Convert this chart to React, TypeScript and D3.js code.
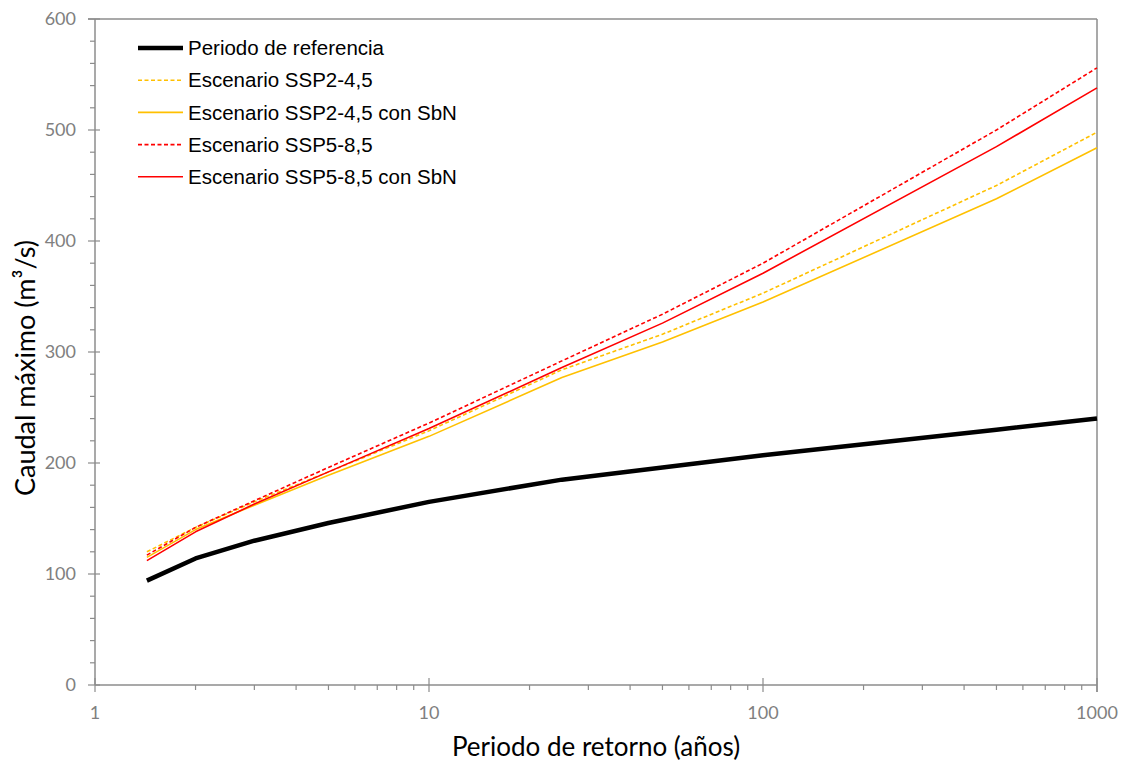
import React from "react";
import * as d3 from "d3";

// Return periods (years)
const periods = [1.43, 2, 3, 5, 10, 25, 50, 100, 500, 1000];

// Peak discharge (m³/s) per scenario
const referencia = [94, 114, 130, 146, 165, 185, 196, 207, 230, 240];
const ssp245 = [120, 142, 165, 192, 229, 284, 316, 353, 450, 498];
const ssp245SbN = [115, 140, 162, 189, 224, 277, 309, 345, 438, 484];
const ssp585 = [117, 142, 166, 196, 236, 292, 334, 380, 500, 556];
const ssp585SbN = [112, 138, 163, 192, 231, 286, 326, 371, 485, 538];

const seriesNames = [
  "Periodo de referencia",
  "Escenario SSP2-4,5",
  "Escenario SSP2-4,5 con SbN",
  "Escenario SSP5-8,5",
  "Escenario SSP5-8,5 con SbN",
];

const xTicks = [1, 10, 100, 1000];
const yTicks = [0, 100, 200, 300, 400, 500, 600];

const W = 1126;
const H = 763;
const left = 95;
const right = 1097;
const top = 19;
const bottom = 685;

export default function App() {
  const x = d3.scaleLog().domain([1, 1000]).range([left, right]);
  const y = d3.scaleLinear().domain([0, 600]).range([bottom, top]);

  const series = [
    { name: seriesNames[0], values: referencia, color: "#000000", width: 4.5, dash: "" },
    { name: seriesNames[1], values: ssp245, color: "#FFC000", width: 1.6, dash: "4 2.5" },
    { name: seriesNames[2], values: ssp245SbN, color: "#FFC000", width: 1.6, dash: "" },
    { name: seriesNames[3], values: ssp585, color: "#FF0000", width: 1.6, dash: "4 2.5" },
    { name: seriesNames[4], values: ssp585SbN, color: "#FF0000", width: 1.6, dash: "" },
  ];

  const line = d3
    .line<[number, number]>()
    .x((d) => x(d[0]))
    .y((d) => y(d[1]));

  const axisColor = "#8c8c8c";
  const tickFont = "Lato, 'Open Sans', sans-serif";

  // minor ticks on the log axis: 2..9 of each decade
  const minorX: number[] = [];
  for (let dec = 1; dec < 1000; dec *= 10) {
    for (let k = 2; k <= 9; k++) minorX.push(dec * k);
  }
  const minorY = d3.range(0, 601, 20).filter((v) => v % 100 !== 0);

  return (
    <svg width={W} height={H} style={{ position: "absolute", left: 0, top: 0, background: "#fff" }}>
      {/* frame */}
      <line x1={left - 7} x2={right} y1={top} y2={top} stroke={axisColor} strokeWidth={1.5} />
      <line x1={right} x2={right} y1={top} y2={bottom + 7} stroke={axisColor} strokeWidth={1.5} />

      {/* y axis */}
      <line x1={left} x2={left} y1={top} y2={bottom} stroke={axisColor} strokeWidth={1.5} />
      {minorY.map((v) => (
        <line key={"my" + v} x1={left - 5} x2={left} y1={y(v)} y2={y(v)} stroke={axisColor} strokeWidth={1.2} />
      ))}
      {yTicks.map((v) => (
        <g key={"y" + v}>
          <line x1={left - 7} x2={left + 5} y1={y(v)} y2={y(v)} stroke={axisColor} strokeWidth={1.2} />
          <text
            x={left - 19}
            y={y(v)}
            dy="0.35em"
            textAnchor="end"
            fontFamily={tickFont}
            fontSize={18}
            fill="#808080"
          >
            {v}
          </text>
        </g>
      ))}

      {/* x axis */}
      <line x1={left} x2={right} y1={bottom} y2={bottom} stroke={axisColor} strokeWidth={1.5} />
      {minorX.map((v) => (
        <line key={"mx" + v} x1={x(v)} x2={x(v)} y1={bottom} y2={bottom + 5} stroke={axisColor} strokeWidth={1.2} />
      ))}
      {xTicks.map((v) => (
        <g key={"x" + v}>
          <line x1={x(v)} x2={x(v)} y1={bottom - 7} y2={bottom + 7} stroke={axisColor} strokeWidth={1.2} />
          <text
            x={x(v)}
            y={bottom + 34}
            textAnchor="middle"
            fontFamily={tickFont}
            fontSize={18}
            fill="#808080"
          >
            {v}
          </text>
        </g>
      ))}

      {/* axis titles */}
      <text
        x={(left + right) / 2}
        y={756}
        textAnchor="middle"
        fontFamily={tickFont}
        fontSize={26}
        fill="#000"
      >
        Periodo de retorno (años)
      </text>
      <text
        transform={`translate(35, 368) rotate(-90)`}
        textAnchor="middle"
        fontFamily={tickFont}
        fontSize={27}
        fill="#000"
      >
        Caudal máximo (m³/s)
      </text>

      {/* series */}
      {series.map((s) => (
        <path
          key={s.name}
          d={line(periods.map((p, i) => [p, s.values[i]] as [number, number])) || ""}
          fill="none"
          stroke={s.color}
          strokeWidth={s.width}
          strokeDasharray={s.dash}
          strokeLinejoin="round"
        />
      ))}

      {/* legend */}
      {series.map((s, i) => {
        const ly = 48 + i * 32.2;
        return (
          <g key={"lg" + i}>
            <line
              x1={138}
              x2={183}
              y1={ly}
              y2={ly}
              stroke={s.color}
              strokeWidth={s.width}
              strokeDasharray={s.dash}
            />
            <text
              x={188}
              y={ly}
              dy="0.35em"
              fontFamily="'Liberation Sans', Arial, sans-serif"
              fontSize={20.5}
              fill="#000"
            >
              {s.name}
            </text>
          </g>
        );
      })}
    </svg>
  );
}
